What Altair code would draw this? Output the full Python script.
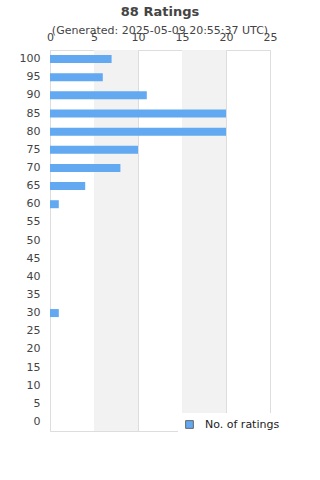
import altair as alt
import pandas as pd

scores = [100, 95, 90, 85, 80, 75, 70, 65, 60, 55, 50, 45, 40, 35, 30, 25, 20, 15, 10, 5, 0]
counts = [7, 6, 11, 20, 20, 10, 8, 4, 1, 0, 0, 0, 0, 0, 1, 0, 0, 0, 0, 0, 0]
band_starts = [5, 15]
band_ends = [10, 20]
series_name = "No. of ratings"

df = pd.DataFrame({"score": [str(s) for s in scores], "count": counts, "series": series_name})
bands = pd.DataFrame({"start": band_starts, "end": band_ends})

FONT = "DejaVu Sans"
x_scale = alt.Scale(domain=[0, 25], nice=False)

band_layer = alt.Chart(bands).mark_rect(color="#f2f2f2").encode(
    x=alt.X("start:Q", scale=x_scale),
    x2="end:Q",
    y=alt.value(0),
    y2=alt.value(381),
)

bars = alt.Chart(df).mark_bar(size=8).encode(
    x=alt.X(
        "count:Q",
        scale=x_scale,
        axis=alt.Axis(
            orient="top", title=None, values=[0, 5, 10, 15, 20, 25], ticks=False, domain=False,
            grid=True, gridColor="#dddddd", labelFontSize=11, labelColor="#444444",
            labelFont=FONT, labelPadding=8, labelFlush=False,
        ),
    ),
    y=alt.Y(
        "score:O",
        sort=[str(s) for s in scores],
        axis=alt.Axis(
            title=None, ticks=False, domain=False, labelFontSize=11, labelColor="#444444",
            labelFont=FONT, labelPadding=10,
        ),
    ),
    color=alt.Color(
        "series:N",
        scale=alt.Scale(range=["#62a9f2"]),
        legend=alt.Legend(
            title=None, orient="none", legendX=128, legendY=363, fillColor="white",
            symbolType="square", symbolSize=60, symbolStrokeColor="#666666", symbolStrokeWidth=1,
            labelFontSize=11, labelFont=FONT, labelColor="#222222", padding=6, labelOffset=10,
        ),
    ),
)

chart = alt.layer(band_layer, bars).properties(
    width=220,
    height=381,
    autosize=alt.AutoSizeParams(type="none"),
    padding={"left": 50, "top": 50, "right": 50, "bottom": 49},
    title=alt.TitleParams(
        text="88 Ratings",
        subtitle="(Generated: 2025-05-09 20:55:37 UTC)",
        fontSize=13, font=FONT, fontWeight="bold", color="#444444",
        subtitleFontSize=11, subtitleFont=FONT, subtitleColor="#444444",
        subtitlePadding=6, offset=-5, anchor="middle",
    ),
).configure_view(stroke="#dddddd").configure(background="white")

chart.save("out.html", embed_options={"renderer": "svg", "actions": False})
